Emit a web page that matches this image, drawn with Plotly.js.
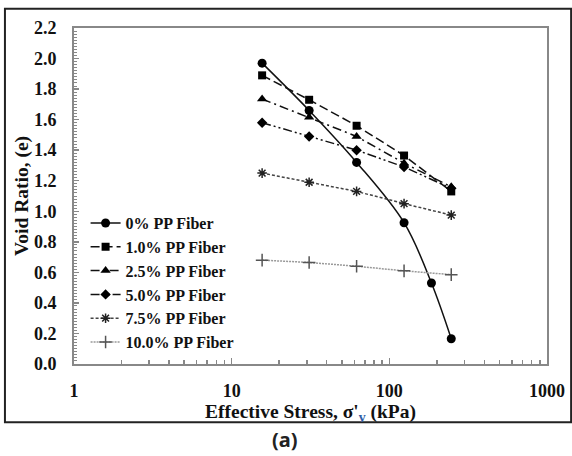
<!DOCTYPE html>
<html>
<head>
<meta charset="utf-8">
<script src="https://cdn.plot.ly/plotly-3.0.1.min.js"></script>
<style>html,body{margin:0;padding:0;background:#fff;}#chart{width:572px;height:456px;}</style>
</head>
<body>
<div id="chart"></div>
<script>
// Data
const stress = [15.6, 31, 62, 124, 247];           // kPa
const stress0 = [15.6, 31, 62, 124, 185, 247];     // kPa (0% series has extra point)
const e0 = [1.97, 1.66, 1.32, 0.925, 0.53, 0.165];
const e10 = [1.89, 1.73, 1.56, 1.365, 1.13];
const e25 = [1.735, 1.615, 1.49, 1.315, 1.16];
const e50 = [1.58, 1.49, 1.40, 1.29, 1.15];
const e75 = [1.25, 1.19, 1.13, 1.05, 0.975];
const e100 = [0.68, 0.665, 0.64, 0.61, 0.585];
const names = ['0% PP Fiber', '1.0% PP Fiber', '2.5% PP Fiber', '5.0% PP Fiber', '7.5% PP Fiber', '10.0% PP Fiber'];
const xTickVals = [1, 10, 100, 1000];
const xTickText = ['1', '10', '100', '1000'];
const yTickVals = [0, 0.2, 0.4, 0.6, 0.8, 1.0, 1.2, 1.4, 1.6, 1.8, 2.0, 2.2];
const yTickText = ['0.0', '0.2', '0.4', '0.6', '0.8', '1.0', '1.2', '1.4', '1.6', '1.8', '2.0', '2.2'];
const xMinor = [];
[1, 10, 100].forEach(d => { for (let k = 2; k <= 9; k++) xMinor.push(k * d); });

const serif = 'Liberation Serif, Times New Roman, serif';

const traces = [
  {x: stress0, y: e0, name: names[0], mode: 'lines+markers',
   line: {color: '#111', width: 1.5, shape: 'spline', smoothing: 1},
   marker: {symbol: 'circle', size: 9, color: '#000'}},
  {x: stress, y: e10, name: names[1], mode: 'lines+markers',
   line: {color: '#111', width: 1.5, dash: '9px,4px'},
   marker: {symbol: 'square', size: 8, color: '#000'}},
  {x: stress, y: e25, name: names[2], mode: 'lines+markers',
   line: {color: '#111', width: 1.5, dash: '9px,4px,2px,4px'},
   marker: {symbol: 'triangle-up', size: 9, color: '#000'}},
  {x: stress, y: e50, name: names[3], mode: 'lines+markers',
   line: {color: '#111', width: 1.5, dash: '9px,3px,2px,3px,2px,3px'},
   marker: {symbol: 'diamond', size: 8, color: '#000'}},
  {x: stress, y: e75, name: names[4], mode: 'lines+markers',
   line: {color: '#444', width: 1.5, dash: '3px,2px'},
   marker: {symbol: 'asterisk-open', size: 8, color: '#222', line: {color: '#222', width: 1.5}}},
  {x: stress, y: e100, name: names[5], mode: 'lines+markers',
   line: {color: '#999', width: 1.5, dash: '2px,1px'},
   marker: {symbol: 'cross-thin-open', size: 9, color: '#555', line: {color: '#555', width: 1.5}}}
];

const layout = {
  width: 572, height: 456,
  margin: {l: 74, r: 25, t: 28, b: 92},
  paper_bgcolor: '#fff', plot_bgcolor: '#fff',
  font: {family: serif, color: '#111'},
  showlegend: true,
  legend: {x: 0.0245, y: 0.47, xanchor: 'left', yanchor: 'top',
    bgcolor: 'rgba(0,0,0,0)', borderwidth: 0, itemwidth: 30,
    font: {family: serif, size: 16, color: '#111', weight: 'bold'}, tracegroupgap: 0},
  xaxis: {type: 'log', range: [0, 3], showgrid: false, zeroline: false,
    showline: true, mirror: true, linecolor: '#888', linewidth: 2,
    tickmode: 'array', tickvals: xTickVals, ticktext: xTickText,
    ticks: 'inside', ticklen: 6, tickcolor: '#888', tickwidth: 1.5,
    ticklabelstandoff: 9,
    tickfont: {family: serif, size: 18, weight: 'bold', color: '#111'},
    minor: {tickmode: 'array', tickvals: xMinor, ticks: 'inside', ticklen: 4, tickcolor: '#888', tickwidth: 1.5, showgrid: false},
    title: {text: "Effective Stress, σ'<sub><span style=\"color:#2f5ea8\">v</span></sub> (kPa)", standoff: 3,
      font: {family: serif, size: 19.5, weight: 'bold', color: '#111'}}},
  yaxis: {range: [0, 2.2], showgrid: false, zeroline: false,
    showline: true, mirror: true, linecolor: '#888', linewidth: 2,
    tickmode: 'array', tickvals: yTickVals, ticktext: yTickText,
    ticks: 'inside', ticklen: 5, tickcolor: '#888', tickwidth: 1.5,
    ticklabelstandoff: 12,
    tickfont: {family: serif, size: 18, weight: 'bold', color: '#111'},
    minor: {dtick: 0.02, ticks: 'inside', ticklen: 3, tickcolor: '#888', tickwidth: 1, showgrid: false},
    title: {text: 'Void Ratio, (e)', standoff: 0,
      font: {family: serif, size: 19.5, weight: 'bold', color: '#111'}}},
  shapes: [
    {type: 'rect', xref: 'paper', yref: 'paper', x0: -0.146, x1: 1.051, y0: -0.173, y1: 1.057,
     line: {color: '#222', width: 2}, fillcolor: 'rgba(0,0,0,0)', layer: 'below'}
  ],
  annotations: [
    {xref: 'paper', yref: 'paper', x: 0.446, y: -0.226, xanchor: 'center', yanchor: 'middle',
     text: '(a)', showarrow: false, font: {family: 'Noto Sans, DejaVu Sans, sans-serif', size: 20, weight: 'bold', color: '#222'}}
  ]
};

Plotly.newPlot('chart', traces, layout, {displayModeBar: false, staticPlot: true});
</script>
</body>
</html>
